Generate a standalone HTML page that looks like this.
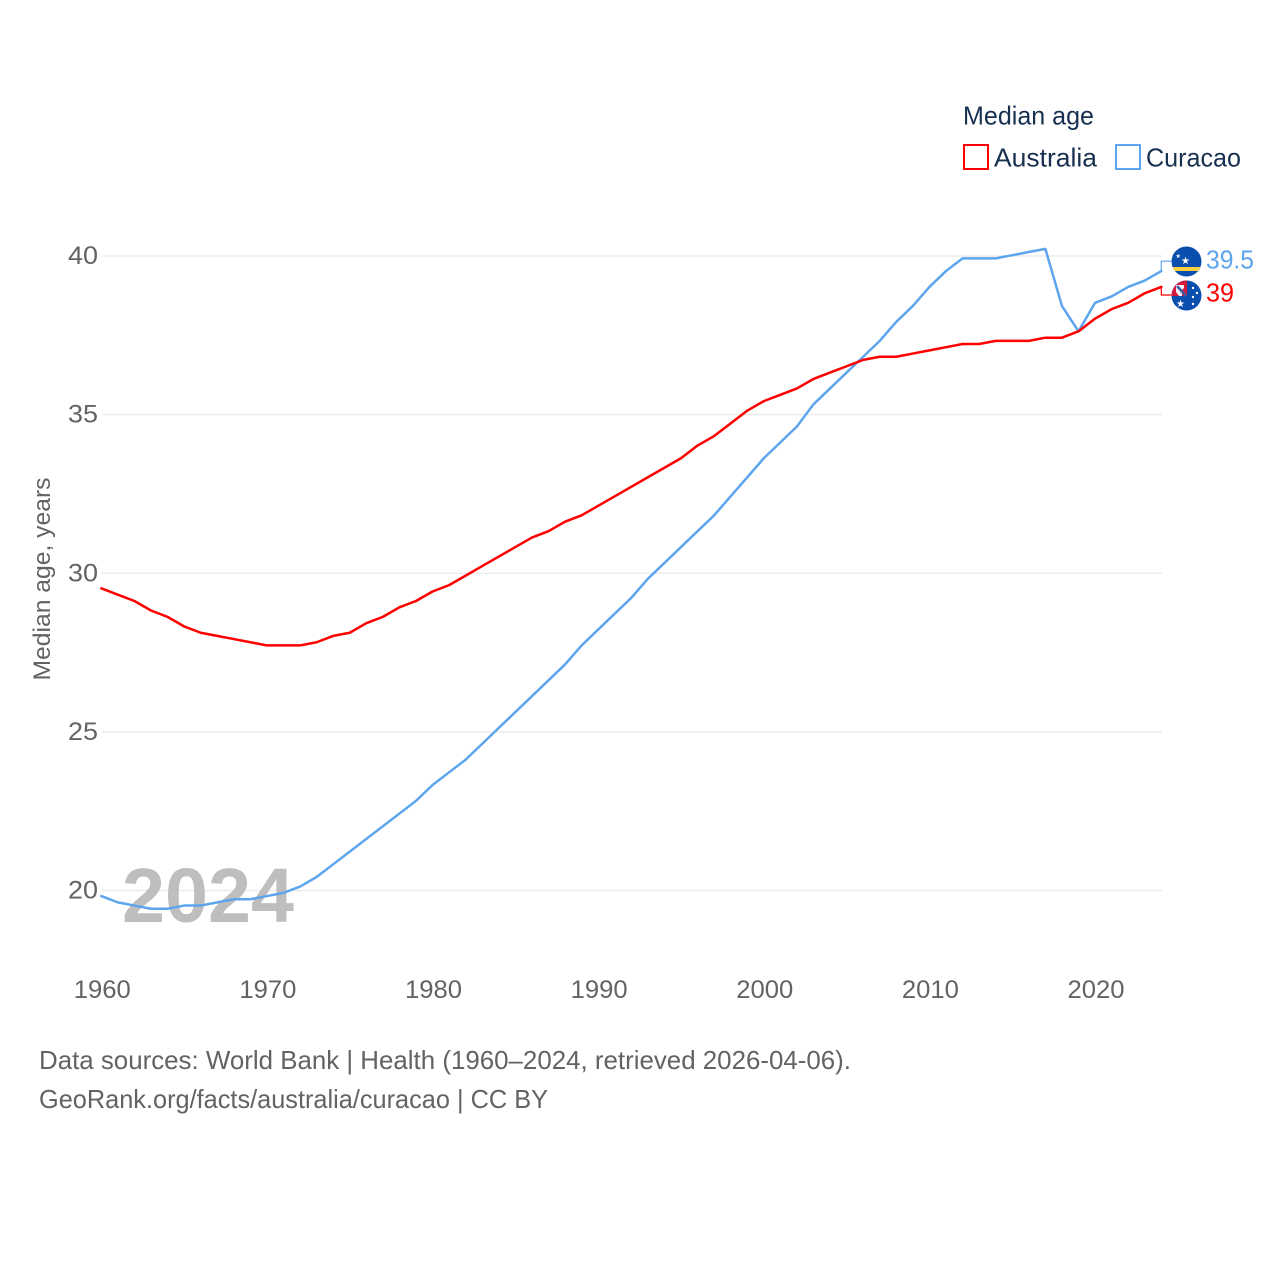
<!DOCTYPE html>
<html lang="en">
<head>
<meta charset="utf-8">
<title>Median age: Australia and Curacao</title>
<style>
html,body{margin:0;padding:0;background:#fff;}
body{width:1280px;height:1280px;overflow:hidden;}
svg{display:block;font-family:"Liberation Sans",sans-serif;}
</style>
</head>
<body>
<svg id="chart" width="1280" height="1280" viewBox="0 0 1280 1280" xmlns="http://www.w3.org/2000/svg">
  <defs>
    <clipPath id="clip-cw"><circle cx="1186.5" cy="261.5" r="15"/></clipPath>
    <clipPath id="clip-au"><circle cx="1186.5" cy="295.5" r="15"/></clipPath>
  </defs>
  <g id="grid"></g>
  <g id="yticks"></g>
  <g id="xticks"></g>
  <text transform="translate(50,579) rotate(-90)" text-anchor="middle" font-size="24" fill="#636363" textLength="203" lengthAdjust="spacingAndGlyphs">Median age, years</text>
  <text x="122" y="922" font-size="77" font-weight="700" fill="#bebebe" textLength="172" lengthAdjust="spacingAndGlyphs">2024</text>
  <g id="series" transform="translate(-0.7,-0.8)"></g>

  <g>
    <text x="963" y="124.5" font-size="26" fill="#18304f" textLength="131" lengthAdjust="spacingAndGlyphs">Median age</text>
    <g>
      <rect x="964" y="145" width="24" height="24" fill="#fff" stroke="#ff0000" stroke-width="2"/>
      <text x="994" y="166.5" font-size="26" fill="#18304f" textLength="103" lengthAdjust="spacingAndGlyphs">Australia</text>
    </g>
    <g>
      <rect x="1116" y="145" width="24" height="24" fill="#fff" stroke="#5da5ee" stroke-width="2"/>
      <text x="1146" y="166.5" font-size="26" fill="#18304f" textLength="95" lengthAdjust="spacingAndGlyphs">Curacao</text>
    </g>
  </g>

  <g clip-path="url(#clip-cw)">
    <rect x="1171" y="246" width="31" height="31" fill="#0a4fae"/>
    <rect x="1171" y="267" width="31" height="4" fill="#f9d140"/>
    <text x="1181" y="264" font-size="10" fill="#fff">★</text>
    <text x="1175.5" y="258" font-size="6" fill="#fff">★</text>
  </g>
  <g clip-path="url(#clip-au)">
    <rect x="1171" y="280" width="31" height="31" fill="#0a4fae"/>
    <rect x="1171" y="280" width="16" height="16" fill="#d5173c"/>
    <path d="M1176 285h8v3l-2 2v6h-3l-3-4z" fill="#f1f1f6"/>
    <path d="M1177 286l9 10" stroke="#3a5fa8" stroke-width="2.5" fill="none"/>
    <text x="1176" y="307" font-size="10" fill="#fff">★</text>
    <circle cx="1193" cy="288" r="1.2" fill="#fff"/>
    <circle cx="1197" cy="293" r="1.2" fill="#fff"/>
    <circle cx="1193" cy="297" r="1.2" fill="#fff"/>
    <circle cx="1193" cy="304" r="1.2" fill="#fff"/>
  </g>

  <text x="1206" y="268.5" font-size="26" fill="#5da5ee" textLength="48" lengthAdjust="spacingAndGlyphs">39.5</text>
  <text x="1206" y="301.5" font-size="26" fill="#ff0000" textLength="28" lengthAdjust="spacingAndGlyphs">39</text>

  <text x="39" y="1069" font-size="26" fill="#636363" textLength="812" lengthAdjust="spacingAndGlyphs">Data sources: World Bank | Health (1960–2024, retrieved 2026-04-06).</text>
  <a>
    <text x="39" y="1108" font-size="26" fill="#636363" textLength="509" lengthAdjust="spacingAndGlyphs">GeoRank.org/facts/australia/curacao | CC BY</text>
  </a>
</svg>
<script>
const years = [1960,1961,1962,1963,1964,1965,1966,1967,1968,1969,1970,1971,1972,1973,1974,1975,1976,1977,1978,1979,1980,1981,1982,1983,1984,1985,1986,1987,1988,1989,1990,1991,1992,1993,1994,1995,1996,1997,1998,1999,2000,2001,2002,2003,2004,2005,2006,2007,2008,2009,2010,2011,2012,2013,2014,2015,2016,2017,2018,2019,2020,2021,2022,2023,2024];
const australia = [29.5,29.3,29.1,28.8,28.6,28.3,28.1,28.0,27.9,27.8,27.7,27.7,27.7,27.8,28.0,28.1,28.4,28.6,28.9,29.1,29.4,29.6,29.9,30.2,30.5,30.8,31.1,31.3,31.6,31.8,32.1,32.4,32.7,33.0,33.3,33.6,34.0,34.3,34.7,35.1,35.4,35.6,35.8,36.1,36.3,36.5,36.7,36.8,36.8,36.9,37.0,37.1,37.2,37.2,37.3,37.3,37.3,37.4,37.4,37.6,38.0,38.3,38.5,38.8,39.0];
const curacao = [19.8,19.6,19.5,19.4,19.4,19.5,19.5,19.6,19.7,19.7,19.8,19.9,20.1,20.4,20.8,21.2,21.6,22.0,22.4,22.8,23.3,23.7,24.1,24.6,25.1,25.6,26.1,26.6,27.1,27.7,28.2,28.7,29.2,29.8,30.3,30.8,31.3,31.8,32.4,33.0,33.6,34.1,34.6,35.3,35.8,36.3,36.8,37.3,37.9,38.4,39.0,39.5,39.9,39.9,39.9,40.0,40.1,40.2,38.4,37.6,38.5,38.7,39.0,39.2,39.5];
const yTickLabels = [20,25,30,35,40];
const xTickLabels = [1960,1970,1980,1990,2000,2010,2020];

const NS = 'http://www.w3.org/2000/svg';
function xScale(year){ return 102 + (year - 1960) * (1162 - 102) / (2024 - 1960); }
function yScale(v){ return 890.5 - (v - 20) * (890.5 - 256) / (40 - 20); }
function make(tag, parent, attrs){
  const el = document.createElementNS(NS, tag);
  for (const k in attrs) el.setAttribute(k, attrs[k]);
  parent.appendChild(el);
  return el;
}

const gridG = document.getElementById('grid');
const yG = document.getElementById('yticks');
const xG = document.getElementById('xticks');
const seriesG = document.getElementById('series');

yTickLabels.forEach(function(v){
  const line = make('line', gridG, {x1:102, x2:1162, y1:yScale(v), y2:yScale(v), stroke:'#ececec', 'stroke-width':1.5});
  
  
  const t = make('text', yG, {x:98, y:yScale(v)+8, 'text-anchor':'end', 'font-size':25, fill:'#636363', textLength:30, lengthAdjust:'spacingAndGlyphs'});
  
  
  t.textContent = v;
});

xTickLabels.forEach(function(y){
  const t = make('text', xG, {x:xScale(y)+0.3, y:998, 'text-anchor':'middle', 'font-size':25, fill:'#636363', textLength:57, lengthAdjust:'spacingAndGlyphs'});
  
  
  t.textContent = y;
});

function drawSeries(values, color, labelY, name){
  const pts = values.map(function(v, i){ return xScale(years[i]).toFixed(2) + ',' + yScale(v).toFixed(2); });
  const p = make('polyline', seriesG, {points:pts.join(' '), fill:'none', stroke:color, 'stroke-width':2.5, 'stroke-linejoin':'round', 'stroke-linecap':'round'});
  
  
  const last = values[values.length - 1];
  const endX = xScale(years[years.length - 1]);
  const c = make('polyline', seriesG, {points:endX + ',' + yScale(last) + ' ' + endX + ',' + labelY + ' ' + (endX + 10) + ',' + labelY, fill:'none', stroke:color, 'stroke-width':1.2});
  
  
}
drawSeries(curacao, '#5da5ee', 262, 'curacao');
drawSeries(australia, '#ff0000', 295.8, 'australia');
</script>
</body>
</html>
